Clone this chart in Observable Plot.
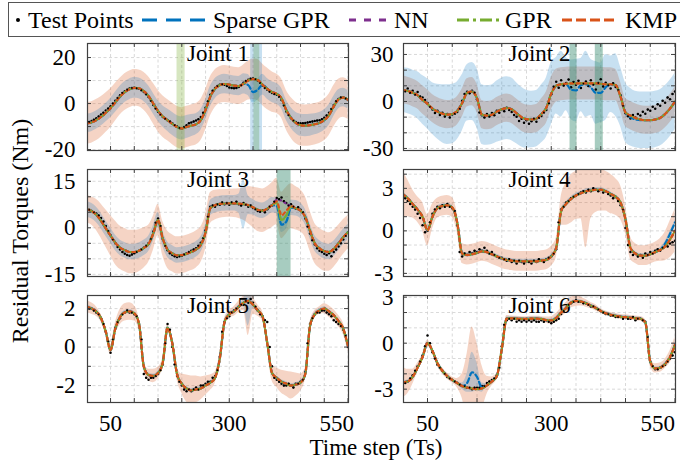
<!DOCTYPE html>
<html><head><meta charset="utf-8">
<script src="https://cdn.jsdelivr.net/npm/d3@7"></script>
<script src="https://cdn.jsdelivr.net/npm/@observablehq/plot@0.6"></script>
<style>
body{margin:0;background:#fff;}
#fig{position:relative;width:680px;height:461px;font-family:"Liberation Serif","Times New Roman",serif;color:#000;overflow:hidden;background:#fff;}
.pn{position:absolute;}
#legend{position:absolute;left:8px;top:2px;width:680px;height:35px;border:1px solid #555;box-sizing:border-box;}
.lt{position:absolute;top:5px;font-size:24px;line-height:24px;white-space:nowrap;}
.ls{position:absolute;top:0px;}
#ylab{position:absolute;left:20px;top:231px;transform:translate(-50%,-50%) rotate(-90deg);font-size:24px;line-height:24px;white-space:nowrap;}
#xlab{position:absolute;left:376px;top:448px;transform:translate(-50%,-50%);font-size:23px;line-height:20px;white-space:nowrap;}
</style></head>
<body>
<div id="fig">
  <div id="legend"></div>
  <div id="ylab">Residual Torques (Nm)</div>
  <div id="xlab">Time step (Ts)</div>
</div>
<script>
// ---------- data ----------
const legendLabels = ["Test Points", "Sparse GPR", "NN", "GPR", "KMP"];
const jointNames = ["Joint 1", "Joint 2", "Joint 3", "Joint 4", "Joint 5", "Joint 6"];
const xTickLabels = [50, 300, 550];
const xMinorTicks = [50, 100, 150, 200, 250, 300, 350, 400, 450, 500, 550];
const predSteps = d3.range(0, 551, 10);   // time steps of predictions (56)
const testSteps = d3.range(0, 551, 5);    // time steps of test points (111)

// Joint 1
const test1 = [
-8.2,-8.0,-7.6,-7.0,-6.4,-5.6,-4.8,-4.0,-3.0,-2.2,
-1.2,0.0,1.2,2.4,3.6,4.6,5.4,6.0,6.5,6.8,
6.9,6.7,6.4,5.8,5.0,4.0,2.8,1.2,-0.6,-2.2,
-3.6,-4.8,-5.8,-6.6,-7.2,-7.8,-8.6,-9.4,-10.0,-10.6,
-10.8,-10.2,-9.4,-8.6,-8.2,-7.8,-7.4,-6.8,-5.8,-4.0,
-1.8,1.0,3.8,5.6,6.8,7.6,8.2,8.4,8.2,7.6,
7.0,6.8,6.6,6.8,7.2,8.0,9.0,9.8,10.4,10.8,
10.9,10.6,10.0,9.0,7.8,6.8,6.0,5.2,4.6,4.2,
3.8,3.0,1.6,-0.8,-3.4,-5.0,-6.4,-7.4,-8.0,-8.4,
-8.6,-8.6,-8.4,-8.2,-8.0,-7.8,-7.6,-7.4,-7.2,-6.8,
-6.2,-5.2,-4.0,-2.4,-0.6,1.0,2.0,2.6,2.6,2.2,
1.6];
const pred1 = [
-8.6,-8.2,-7.2,-5.8,-4.0,-2.0,0.5,3.0,5.0,6.2,
6.8,6.6,5.4,3.2,0,-3.2,-5.6,-7.2,-8.8,-10.2,
-10.8,-10.2,-9.6,-9.0,-7.2,-2.8,3.0,6.4,8.0,8.5,
8.2,7.8,7.6,8.6,10.0,10.6,10.2,8.2,6.4,5.0,
4.2,2.2,-2.8,-6.2,-8.4,-9.4,-9.6,-9.4,-9.0,-8.4,
-7.2,-5.0,-1.2,1.8,2.6,1.6];
const sgpr1 = [
-8.6,-8.2,-7.2,-5.8,-4.0,-2.0,0.5,3.0,5.0,6.2,
6.8,6.6,5.4,3.2,0,-3.2,-5.6,-7.2,-8.8,-10.2,
-10.8,-10.2,-9.6,-9.0,-7.2,-2.8,3.0,6.4,8.0,8.5,
8.2,7.8,7.6,8.6,8.0,5.0,6.0,8.2,6.4,5.0,
4.2,2.2,-2.8,-6.2,-8.4,-9.4,-9.6,-9.4,-9.0,-8.4,
-7.2,-5.0,-1.2,1.8,2.6,1.6];
const kmpW1 = [
9,9,9,8.8,8.6,8.4,8.2,8,8,8,
8,8,8.2,8.5,8.8,9,9,9,9,9,
9,9,9,9,9,8.8,8.5,8.2,8,8,
8,8,8,8.2,8.5,8.8,9,9,9,8.8,
8.5,8.5,8.6,8.8,9,9,9,9,9,9,
9,9,9,8.8,8.6,8.5];
const sgprW1 = [
4,4,4,4,4,4.2,4.4,4.5,4.5,4.5,
4.5,4.5,4.5,4.5,4.5,4.5,4.6,4.8,5,5,
5,5,4.8,4.6,4.5,4.5,4.5,4.4,4.2,4.2,
4.2,4.2,4.2,4.4,4.6,4.8,4.6,4.5,4.5,4.5,
4.5,4.5,4.5,4.5,4.6,4.8,4.8,4.8,4.6,4.5,
4.5,4.5,4.4,4.2,4,4];
const gprSpikes1 = [[190, 207], [352, 364]];
const sgprSpikes1 = [[345, 370]];

// Joint 2
const test2 = [
7.8,6.5,8.2,5.6,6.8,4.4,6.0,3.2,2.6,1.0,
-1.0,-3.4,-5.2,-7.4,-6.0,-8.6,-7.2,-9.6,-8.0,-10.2,
-8.4,-7.8,-6.8,-4.6,0.4,4.8,6.2,5.2,6.8,5.6,
1.4,-7.0,-8.8,-10.2,-8.0,-9.6,-7.4,-8.8,-6.0,-7.2,
-5.0,-6.2,-4.0,-5.4,-6.8,-8.6,-9.8,-12.4,-11.0,-13.6,
-12.0,-14.2,-12.6,-11.0,-13.0,-10.4,-9.2,-7.0,-5.4,-1.2,
4.6,9.4,12.6,8.8,13.6,10.2,11.8,14.0,9.0,12.4,
10.6,13.2,8.6,11.4,12.8,9.8,13.6,10.8,7.6,11.8,
14.2,9.6,12.0,10.4,8.2,11.6,9.2,7.4,4.0,-2.8,
-7.6,-9.4,-10.8,-8.6,-10.2,-8.0,-9.0,-6.6,-7.8,-5.2,
-6.0,-3.4,-4.6,-1.8,-2.8,0.4,-0.8,2.6,1.4,4.8,
6.4];
const pred2 = [
7.3,6.7,5.5,4.0,1.0,-1.5,-4.5,-6.5,-7.8,-8.4,
-8.0,-6.0,-1.0,5.5,6.3,2.0,-8.4,-9.0,-8.5,-6.5,
-5.0,-4.3,-5.0,-7.5,-10.0,-11.3,-11.5,-11.0,-8.0,-4.0,
5.0,10.0,11.0,11.3,11.5,11.5,11.5,11.5,11.5,11.5,
11.3,11.0,11.0,10.5,3.0,-7.0,-9.0,-10.5,-11.5,-12.0,
-12.0,-11.5,-10.5,-8.0,-4.5,0.0];
const sgpr2 = [
7.3,6.7,5.5,4.0,1.0,-1.5,-4.5,-6.5,-7.8,-8.4,
-8.0,-6.0,-1.0,5.5,6.3,2.0,-8.4,-9.0,-8.5,-6.5,
-5.0,-4.3,-5.0,-7.5,-10.0,-11.3,-11.5,-11.0,-8.0,-4.0,
5.0,10.0,11.0,11.0,7.5,7.0,10.5,11.0,9.0,5.5,
5.5,9.0,11.0,10.5,3.0,-7.0,-10.0,-11.5,-12.0,-12.0,
-12.0,-11.5,-10.5,-8.0,-4.5,0.0];
const kmpW2 = [
8.8,8.8,8.8,8.8,9,9,9,9,9,9,
9,9,9,9,9,9,9,9,9,9,
9,9,9,9,9,9,9,9,9.5,10,
10.5,10.5,10.5,10.5,10.5,10.5,10.5,10.5,10.5,10.5,
10.5,10.5,10.5,10,9.5,9,9,9,9,9,
9,9,9,9,9,9];
const sgprW2 = [
14,14.5,14.5,15,15.5,16,16.5,17.5,18.5,19,
19,18.5,18,18,18.5,19,19,19,19,19.5,
20,20,20,19.5,19,18.5,18,18,18.5,19,
20,18,21,17,19,20,17,21,18,20,
19,21,18,20,19,19,18.5,18,18,18,
18,18,18,18,18,18];
const gprSpikes2 = [[338, 352], [389, 405]];
const sgprSpikes2 = [[338, 352], [389, 405]];

// Joint 3
const test3 = [
6.2,5.8,5.4,5.0,4.6,4.0,3.2,2.0,0.6,-1.0,
-2.4,-3.8,-5.0,-6.2,-7.0,-7.8,-8.4,-8.8,-9.0,-8.6,
-8.2,-7.8,-7.4,-7.0,-6.4,-5.8,-5.0,-3.6,-1.2,1.6,
3.0,0.6,-3.6,-5.8,-7.2,-8.2,-8.8,-9.2,-9.4,-9.2,
-9.0,-8.6,-8.2,-7.8,-7.4,-7.0,-6.6,-5.8,-4.8,-3.4,
-0.8,3.6,6.8,7.2,6.8,7.6,7.4,8.2,7.6,8.0,
7.4,8.2,7.8,8.4,7.6,7.2,8.0,7.4,6.8,7.2,
6.4,6.0,5.4,5.2,5.6,5.0,6.0,6.8,7.2,8.4,
9.6,9.2,9.8,8.6,8.0,7.2,7.6,6.8,6.2,6.6,
5.8,5.0,3.0,0.4,-1.8,-4.0,-5.4,-6.6,-7.4,-7.8,
-8.4,-8.8,-8.2,-9.2,-7.8,-7.0,-6.0,-5.0,-3.8,-2.6,
-1.4];
const pred3 = [
6.0,5.4,4.2,2.2,-0.2,-2.5,-4.8,-6.4,-7.2,-7.8,
-7.8,-7.4,-6.5,-5.2,-1.8,2.5,-3.5,-7.0,-8.2,-8.9,
-8.8,-8.4,-7.8,-7.0,-5.5,-1.5,6.3,7.3,7.7,7.8,
7.9,7.9,7.8,7.6,7.3,6.6,5.8,5.5,6.2,7.3,
9.0,8.8,7.8,7.0,6.3,5.5,3.5,-1.0,-5.0,-6.6,
-7.5,-7.8,-6.8,-5.0,-3.0,-1.4];
const sgpr3 = [
6.0,5.4,4.2,2.2,-0.2,-2.5,-4.8,-6.4,-7.2,-7.8,
-7.8,-7.4,-6.5,-5.2,-1.8,2.5,-3.5,-7.0,-8.2,-8.9,
-8.8,-8.4,-7.8,-7.0,-5.5,-1.5,6.3,7.3,7.7,7.8,
7.9,7.9,7.8,7.6,7.3,6.6,5.8,5.5,6.2,7.3,
7.0,1.0,2.0,6.5,6.3,5.5,3.5,-1.0,-5.0,-6.6,
-7.5,-7.8,-6.8,-5.0,-3.0,-1.4];
const kmp3 = [
6.0,5.4,4.2,2.2,-0.2,-2.5,-4.8,-6.4,-7.2,-7.8,
-7.8,-7.4,-6.5,-5.2,-1.8,2.5,-3.5,-7.0,-8.2,-8.9,
-8.8,-8.4,-7.8,-7.0,-5.5,-1.5,6.3,7.3,7.7,7.8,
7.9,7.9,7.8,7.6,7.3,6.6,5.8,5.5,6.2,7.3,
8.5,4.0,5.5,7.0,6.3,5.5,3.5,-1.0,-5.0,-6.6,
-7.5,-7.8,-6.8,-5.0,-3.0,-1.4];
const gpr3 = [
6.0,5.4,4.2,2.2,-0.2,-2.5,-4.8,-6.4,-7.2,-7.8,
-7.8,-7.4,-6.5,-5.2,-1.8,2.5,-3.5,-7.0,-8.2,-8.9,
-8.8,-8.4,-7.8,-7.0,-5.5,-1.5,6.3,7.3,7.7,7.8,
7.9,7.9,7.8,7.6,7.3,6.6,5.8,5.5,6.2,7.3,
8.0,2.5,4.0,6.8,6.3,5.5,3.5,-1.0,-5.0,-6.6,
-7.5,-7.8,-6.8,-5.0,-3.0,-1.4];
const kmpW3 = [
4.5,4.5,5,5.5,6,6.5,7,7,7,7,
7,6.8,6.5,6,5.5,5,5.5,6,6,6,
6,6,6,6,5.8,5.5,5,4.8,4.6,4.5,
4.5,4.6,4.8,5.2,6,6.5,7,7,7,7.2,
7.5,7.5,7.5,7.2,7,6.8,6.6,6.5,6.4,6.4,
6.4,6.2,6,5.8,5.6,5.4];
const sgprW3 = [
2.5,2.5,2.5,2.5,2.5,2.5,2.5,2.5,2.5,2.5,
2.5,2.5,2.5,2.5,2.5,2.5,2.5,2.5,2.5,2.5,
2.5,2.5,2.5,2.5,2.5,2.5,2.5,2.5,2.5,2.5,
2.5,2.5,3,8,3,2.5,2.5,2.5,2.5,2.5,
2.5,2.5,2.5,2.5,2.5,2.5,2.5,2.5,2.5,2.5,
2.5,2.5,2.5,2.5,2.5,2.5];
const gprSpikes3 = [[401, 430]];
const sgprSpikes3 = [[401, 430]];

// Joint 4
const test4 = [
2.5,2.3,2.1,1.9,1.7,1.5,1.2,0.9,0.4,-0.1,
0.0,0.6,1.2,1.5,1.7,1.6,1.8,1.7,1.9,1.7,
1.6,1.4,0.4,-1.5,-1.8,-1.6,-1.7,-1.5,-1.6,-1.4,
-1.5,-1.3,-1.4,-1.2,-1.4,-1.6,-1.5,-1.7,-1.8,-1.9,
-1.9,-2.0,-2.1,-2.0,-2.2,-2.1,-2.3,-2.1,-2.2,-2.3,
-2.1,-2.2,-2.3,-2.1,-2.2,-2.0,-2.1,-2.2,-2.0,-1.9,
-1.8,-1.6,-1.3,0.6,1.5,1.7,2.0,2.1,2.3,2.4,
2.5,2.6,2.7,2.8,2.7,2.9,2.8,3.0,2.9,2.8,
2.9,2.7,2.8,2.6,2.5,2.3,2.4,2.1,1.8,1.5,
0.2,-1.0,-1.5,-1.7,-1.6,-1.8,-1.7,-1.9,-1.6,-1.7,
-1.5,-1.6,-1.4,-1.3,-1.4,-1.2,-1.0,-1.1,-0.9,-0.8,
-0.7];
const pred4 = [
2.6,2.3,1.9,1.5,1.0,0.05,1.0,1.6,1.75,1.8,
1.65,0.6,-1.6,-1.7,-1.65,-1.55,-1.45,-1.5,-1.65,-1.8,
-1.95,-2.05,-2.1,-2.15,-2.15,-2.15,-2.15,-2.15,-2.1,-2.05,
-1.8,-1.2,1.4,1.9,2.25,2.5,2.65,2.8,2.85,2.9,
2.9,2.8,2.6,2.4,2.0,0.8,-1.2,-1.6,-1.75,-1.75,
-1.65,-1.5,-1.35,-1.1,-0.6,0.0];
const sgpr4 = [
2.6,2.3,1.9,1.5,1.0,0.05,1.0,1.6,1.75,1.8,
1.65,0.6,-1.6,-1.7,-1.65,-1.55,-1.45,-1.5,-1.65,-1.8,
-1.95,-2.05,-2.1,-2.15,-2.15,-2.15,-2.15,-2.15,-2.1,-2.05,
-1.8,-1.2,1.4,1.9,2.25,2.5,2.65,2.8,2.85,2.9,
2.9,2.8,2.6,2.4,2.0,0.8,-1.2,-1.6,-1.75,-1.75,
-1.65,-1.5,-1.35,-0.9,-0.2,0.6];
const kmpW4 = [
1.6,1.3,1.0,0.9,1.0,1.1,0.9,0.7,0.7,0.7,
0.7,0.7,0.7,0.7,0.7,0.7,0.7,0.7,0.7,0.7,
0.7,0.7,0.7,0.7,0.7,0.7,0.7,0.7,0.7,0.7,
0.7,0.7,1.0,1.5,1.7,1.7,1.8,4.0,2.0,1.6,
1.5,1.4,1.4,1.3,1.2,1.0,0.8,0.7,0.7,0.7,
0.7,0.7,0.8,1.0,1.3,1.5];
const sgprW4 = [
0.15,0.15,0.15,0.15,0.15,0.15,0.15,0.15,0.15,0.15,
0.15,0.15,0.15,0.15,0.15,0.15,0.15,0.15,0.15,0.15,
0.15,0.15,0.15,0.15,0.15,0.15,0.15,0.15,0.15,0.15,
0.15,0.15,0.15,0.15,0.15,0.15,0.15,0.15,0.15,0.15,
0.15,0.15,0.15,0.15,0.15,0.15,0.15,0.15,0.15,0.15,
0.15,0.15,0.15,0.15,0.15,0.15];

// Joint 5
const test5 = [
2.1,2.0,2.0,1.9,1.8,1.7,1.5,1.2,0.8,0.3,
-0.3,0.4,1.0,1.3,1.5,1.7,1.8,1.9,1.8,1.8,
1.7,1.6,1.2,0.4,-1.4,-1.6,-1.7,-1.6,-1.6,-1.5,
-1.4,-1.2,-0.9,0.2,1.2,0.9,0.0,-0.9,-1.5,-1.8,
-2.0,-2.2,-2.3,-2.2,-2.3,-2.2,-2.1,-2.2,-2.0,-2.0,
-1.9,-1.8,-1.8,-1.6,-1.5,-1.2,-0.5,0.8,1.3,1.5,
1.6,1.8,1.9,2.0,2.1,2.2,2.2,2.4,2.3,2.5,
2.3,2.1,1.9,1.7,1.6,1.4,1.3,0.0,-1.0,-1.6,
-1.7,-1.8,-1.9,-2.0,-2.0,-1.9,-2.0,-2.1,-1.9,-1.9,
-1.8,-1.7,-1.3,0.2,1.2,1.5,1.7,1.8,1.8,1.9,
1.9,1.8,1.7,1.6,1.4,1.3,1.2,1.1,0.9,0.6,
0.0];
const pred5 = [
2.1,2.0,1.85,1.5,0.8,-0.15,0.95,1.55,1.8,1.85,
1.75,1.2,-1.0,-1.45,-1.5,-1.35,-0.8,1.0,0.2,-1.4,
-1.9,-2.15,-2.25,-2.2,-2.15,-2.0,-1.85,-1.6,-0.6,1.3,
1.7,1.85,2.1,2.3,2.4,2.2,1.9,1.6,0.2,-1.35,
-1.6,-1.8,-1.9,-2.0,-1.95,-1.85,-1.4,1.1,1.7,1.9,
2.0,1.85,1.65,1.35,0.95,0.05];
const sgpr5 = pred5; // Sparse GPR overlaps the other predictions for joint 5
const kmpW5 = [
0.3,0.3,0.25,0.2,0.2,0.25,0.3,0.4,0.45,0.45,
0.4,0.3,0.25,0.3,0.35,0.3,0.25,0.2,0.2,0.3,
0.5,0.7,0.75,0.7,0.6,0.5,0.4,0.3,0.25,0.2,
0.2,0.25,0.3,0.4,1.8,0.5,0.3,0.25,0.25,0.4,
0.5,0.6,0.65,0.7,0.6,0.45,0.3,0.2,0.2,0.2,
0.25,0.3,0.3,0.3,0.3,0.3];
const sgprW5 = [
0.1,0.1,0.1,0.1,0.1,0.1,0.1,0.1,0.1,0.1,
0.1,0.1,0.1,0.1,0.1,0.1,0.1,0.1,0.1,0.1,
0.1,0.1,0.1,0.1,0.1,0.1,0.1,0.1,0.1,0.1,
0.1,0.1,0.1,0.2,1.3,0.2,0.1,0.1,0.1,0.1,
0.1,0.1,0.1,0.1,0.1,0.1,0.1,0.1,0.1,0.1,
0.1,0.1,0.1,0.1,0.1,0.1];

// Joint 6
const test6 = [
-2.6,-2.6,-2.5,-2.3,-2.1,-1.8,-1.5,-1.2,-0.8,-0.2,
0.5,0.0,-0.6,-1.0,-1.4,-1.6,-1.8,-2.0,-2.2,-2.3,
-2.4,-2.5,-2.6,-2.7,-2.8,-2.8,-2.9,-2.9,-3.0,-2.9,
-2.9,-2.9,-2.8,-2.8,-2.6,-2.5,-2.4,-2.3,-2.1,-1.6,
-0.2,1.2,1.5,1.6,1.5,1.6,1.4,1.5,1.4,1.5,
1.4,1.5,1.4,1.5,1.4,1.4,1.5,1.4,1.5,1.4,
1.3,1.4,1.5,1.6,1.9,2.1,2.3,2.5,2.6,2.7,
2.8,2.7,2.7,2.6,2.6,2.5,2.4,2.4,2.3,2.2,
2.1,2.0,1.9,1.9,1.8,1.8,1.7,1.7,1.7,1.6,
1.7,1.6,1.6,1.7,1.5,1.6,1.6,1.5,1.4,0.4,
-1.2,-1.5,-1.7,-1.7,-1.6,-1.5,-1.4,-1.2,-1.0,-0.8,
-0.6];
const pred6 = [
-2.55,-2.5,-2.2,-1.6,-0.9,0.0,-0.5,-1.3,-1.8,-2.15,
-2.4,-2.6,-2.8,-2.9,-2.95,-3.0,-2.95,-2.75,-2.5,-2.15,
-0.4,1.6,1.62,1.6,1.58,1.58,1.6,1.6,1.58,1.5,
1.48,1.65,2.0,2.3,2.65,2.75,2.72,2.6,2.45,2.3,
2.1,1.95,1.85,1.78,1.72,1.7,1.66,1.62,1.59,1.35,
-1.2,-1.65,-1.6,-1.35,-0.9,-0.1];
const sgpr6 = [
-2.55,-2.5,-2.2,-1.6,-0.9,0.0,-0.5,-1.3,-1.8,-2.15,
-2.4,-2.6,-2.8,-2.6,-1.9,-2.2,-2.9,-2.75,-2.5,-2.15,
-0.4,1.6,1.62,1.6,1.58,1.58,1.6,1.6,1.58,1.5,
1.48,1.65,2.0,2.3,2.65,2.75,2.72,2.6,2.45,2.3,
2.1,1.95,1.85,1.78,1.72,1.7,1.66,1.62,1.59,1.35,
-1.2,-1.65,-1.6,-1.35,-0.9,-0.1];
const kmpW6 = [
1.0,0.8,0.5,0.3,0.2,0.2,0.2,0.2,0.2,0.2,
0.2,0.3,0.8,2.2,4.0,3.0,1.5,0.6,0.3,0.2,
0.2,0.2,0.15,0.15,0.15,0.15,0.15,0.15,0.15,0.2,
0.25,0.3,0.3,0.35,0.35,0.35,0.3,0.25,0.2,0.2,
0.15,0.15,0.15,0.15,0.15,0.15,0.15,0.15,0.15,0.2,
0.3,0.3,0.3,0.3,0.4,0.5];
const sgprW6 = [
0.1,0.1,0.1,0.1,0.1,0.1,0.1,0.1,0.1,0.1,
0.1,0.1,0.2,0.6,1.3,0.9,0.3,0.1,0.1,0.1,
0.1,0.1,0.1,0.1,0.1,0.1,0.1,0.1,0.1,0.1,
0.1,0.1,0.1,0.1,0.1,0.1,0.1,0.1,0.1,0.1,
0.1,0.1,0.1,0.1,0.1,0.1,0.1,0.1,0.1,0.1,
0.1,0.1,0.1,0.1,0.1,0.1];

// y tick labels and grid steps per joint
const yTicks = [[-20,0,20],[-30,0,30],[-15,0,15],[-3,0,3],[-2,0,2],[-3,0,3]];
const yGrid = [
  [-20,-10,0,10,20],
  [-30,-20,-10,0,10,20,30],
  [-15,-10,-5,0,5,10,15],
  [-3,-2,-1,0,1,2,3,4],
  [-2,-1,0,1,2],
  [-3,-2,-1,0,1,2,3]];
const yDomains = [[-20.4,26.1],[-31.3,37],[-15.7,18.8],[-3.22,4.33],[-2.88,2.68],[-3.87,3.11]];

// ---------- styling ----------
const C_SGPR = "#0072BD", C_NN = "#7E2F8E", C_GPR = "#77AC30", C_KMP = "#D95319";
const FONT = '"Liberation Serif","Times New Roman",serif';

const panels = [
  {test:test1, pred:pred1, sgpr:sgpr1, kmpW:kmpW1, sgprW:sgprW1, gSp:gprSpikes1, sSp:sgprSpikes1},
  {test:test2, pred:pred2, sgpr:sgpr2, kmpW:kmpW2, sgprW:sgprW2, gSp:gprSpikes2, sSp:sgprSpikes2},
  {test:test3, pred:pred3, sgpr:sgpr3, kmp:kmp3, gpr:gpr3, kmpW:kmpW3, sgprW:sgprW3, gSp:gprSpikes3, sSp:sgprSpikes3},
  {test:test4, pred:pred4, sgpr:sgpr4, kmpW:kmpW4, sgprW:sgprW4, gSp:[], sSp:[]},
  {test:test5, pred:pred5, sgpr:sgpr5, kmpW:kmpW5, sgprW:sgprW5, gSp:[], sSp:[]},
  {test:test6, pred:pred6, sgpr:sgpr6, kmpW:kmpW6, sgprW:sgprW6, gSp:[], sSp:[]}
];

const rowTops = [43, 169, 295];
const FH = 107;
const fig = document.getElementById("fig");

panels.forEach((p, k) => {
  const col = k % 2, row = Math.floor(k / 2);
  const mL = col ? 48 : 87, mR = col ? 5 : 12;
  const W = col ? 325 : 360;
  const FW = W - mL - mR;
  const mT = 12, mB = row === 2 ? 50 : 12;
  const kmpArr = p.kmp || p.pred, gprArr = p.gpr || p.pred;
  const rows = predSteps.map((t, i) => ({
    t, nn: p.pred[i], sgpr: p.sgpr[i], kmp: kmpArr[i], gpr: gprArr[i],
    kmpW: p.kmpW[i], sgprW: p.sgprW[i]
  }));
  const tests = testSteps.map((t, i) => ({t, v: p.test[i]}));
  const cv = "monotone-x";
  const marks = [
    Plot.ruleX(xMinorTicks, {x: d => d, stroke: "#cfcfcf", strokeWidth: 0.8, strokeDasharray: "3,2.5"}),
    Plot.ruleY(yGrid[k], {y: d => d, stroke: "#cfcfcf", strokeWidth: 0.8, strokeDasharray: "3,2.5"}),
    Plot.areaY(rows, {x: "t", y1: d => d.kmp - d.kmpW, y2: d => d.kmp + d.kmpW, fill: C_KMP, fillOpacity: 0.25, curve: cv, clip: true}),
    Plot.areaY(rows, {x: "t", y1: d => d.sgpr - d.sgprW, y2: d => d.sgpr + d.sgprW, fill: C_SGPR, fillOpacity: 0.22, curve: cv, clip: true}),
    Plot.rect(p.gSp, {x1: d => d[0], x2: d => d[1], fill: C_GPR, fillOpacity: 0.3, clip: true}),
    Plot.rect(p.sSp, {x1: d => d[0], x2: d => d[1], fill: C_SGPR, fillOpacity: 0.22, clip: true}),
    Plot.text([jointNames[k]], {text: d => d, frameAnchor: "top", lineAnchor: "top", dy: 1, fontSize: 23}),
    Plot.dot(tests, {x: "t", y: "v", r: 1.25, fill: "black", clip: true}),
    Plot.line(rows, {x: "t", y: "sgpr", stroke: C_SGPR, strokeWidth: 2.2, strokeDasharray: "5,3", curve: cv, clip: true}),
    Plot.line(rows, {x: "t", y: "nn", stroke: C_NN, strokeWidth: 2.2, strokeDasharray: "1.5,3.5", strokeDashoffset: 2, curve: cv, clip: true}),
    Plot.line(rows, {x: "t", y: "gpr", stroke: C_GPR, strokeWidth: 2.2, strokeDasharray: "5,2,1.5,2", strokeDashoffset: 4, curve: cv, clip: true}),
    Plot.line(rows, {x: "t", y: "kmp", stroke: C_KMP, strokeWidth: 2.2, strokeDasharray: "3,3.5", curve: cv, clip: true}),
    Plot.dot(tests.filter((d, i) => i % 2 === 1), {x: "t", y: "v", r: 0.9, fill: "black", clip: true}),
    // inward tick marks on all four sides
    Plot.ruleX(xMinorTicks, {x: d => d, insetBottom: FH - 4, stroke: "#404040"}),
    Plot.ruleX(xMinorTicks, {x: d => d, insetTop: FH - 4, stroke: "#404040"}),
    Plot.ruleY(yGrid[k], {y: d => d, insetRight: FW - 4, stroke: "#404040"}),
    Plot.ruleY(yGrid[k], {y: d => d, insetLeft: FW - 4, stroke: "#404040"}),
    Plot.frame({stroke: "#404040", strokeWidth: 1.2}),
    Plot.text(yTicks[k], {y: d => d, text: d => String(d), frameAnchor: "left", textAnchor: "end", dx: col ? -10 : -12, fontSize: 23})
  ];
  if (row === 2) {
    marks.push(Plot.text(xTickLabels.slice(0, 2), {x: d => d, text: d => String(d), frameAnchor: "bottom", lineAnchor: "top", dy: 12, fontSize: 23}));
    marks.push(Plot.text(xTickLabels.slice(2), {x: d => d, text: d => String(d), frameAnchor: "bottom", lineAnchor: "top", dy: 12, textAnchor: "end", dx: col ? 0 : 6, fontSize: 23}));
  }
  const svg = Plot.plot({
    width: W, height: FH + mT + mB,
    marginLeft: mL, marginRight: mR, marginTop: mT, marginBottom: mB,
    x: {domain: [1.5, 551], axis: null},
    y: {domain: yDomains[k], axis: null},
    style: {background: "transparent", overflow: "visible", fontFamily: FONT, fontSize: "23px", color: "black"},
    marks
  });
  const holder = document.createElement("div");
  holder.className = "pn";
  holder.style.left = (col ? 355 : 0) + "px";
  holder.style.top = (rowTops[row] - mT) + "px";
  holder.appendChild(svg);
  fig.appendChild(holder);
});

// ---------- legend ----------
const legend = document.getElementById("legend");
const legendItems = [
  {label: legendLabels[0], textX: 19, kind: "dot"},
  {label: legendLabels[1], textX: 204, sx: 133, sw: 63, color: C_SGPR, dash: "15,9"},
  {label: legendLabels[2], textX: 385, sx: 340, sw: 37, color: C_NN, dash: "7,8"},
  {label: legendLabels[3], textX: 496, sx: 448, sw: 42, color: C_GPR, dash: "12,4,3,4"},
  {label: legendLabels[4], textX: 616, sx: 553, sw: 52, color: C_KMP, dash: "10,4"}
];
legendItems.forEach(it => {
  const ns = "http://www.w3.org/2000/svg";
  const s = document.createElementNS(ns, "svg");
  s.setAttribute("class", "ls");
  if (it.kind === "dot") {
    s.setAttribute("width", 12); s.setAttribute("height", 33);
    s.style.left = "4px";
    const c = document.createElementNS(ns, "circle");
    c.setAttribute("cx", 5); c.setAttribute("cy", 17); c.setAttribute("r", 2);
    c.setAttribute("fill", "black");
    s.appendChild(c);
  } else {
    s.setAttribute("width", it.sw); s.setAttribute("height", 33);
    s.style.left = it.sx + "px";
    const l = document.createElementNS(ns, "line");
    l.setAttribute("x1", 0); l.setAttribute("x2", it.sw);
    l.setAttribute("y1", 17); l.setAttribute("y2", 17);
    l.setAttribute("stroke", it.color); l.setAttribute("stroke-width", 3);
    l.setAttribute("stroke-dasharray", it.dash);
    s.appendChild(l);
  }
  legend.appendChild(s);
  const t = document.createElement("div");
  t.className = "lt";
  t.style.left = it.textX + "px";
  t.textContent = it.label;
  legend.appendChild(t);
});
</script>
</body></html>
